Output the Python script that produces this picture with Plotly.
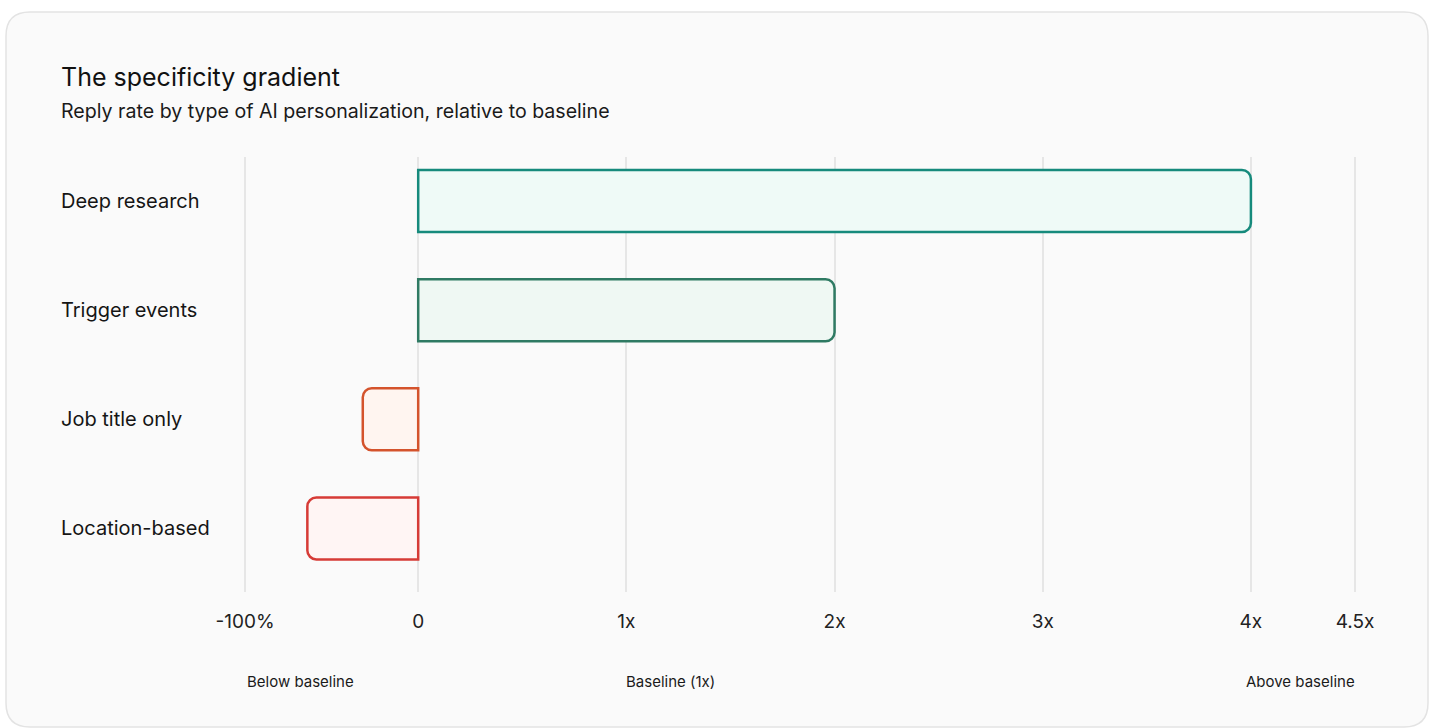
import plotly.graph_objects as go

# ---------------- data ----------------
categories = ["Deep research", "Trigger events", "Job title only", "Location-based"]
# positive values: multiples of baseline; negative values: fraction below baseline
values = [4.0, 2.0, -0.32, -0.64]
tick_values = [-1.0, 0, 1, 2, 3, 4, 4.5]
tick_labels = ["-100%", "0", "1x", "2x", "3x", "4x", "4.5x"]
line_colors = ["#168a7c", "#2f7a63", "#d4532c", "#d63b36"]
fill_colors = ["#effaf7", "#eff8f3", "#fff5f0", "#fff5f4"]
bottom_labels = ["Below baseline", "Baseline (1x)", "Above baseline"]

# negative side of the axis is compressed: -100% sits at this many "x" units
NEG_SCALE = 0.832


def to_axis(v):
    return v if v >= 0 else v * NEG_SCALE


x_plot = [to_axis(v) for v in values]
tick_pos = [to_axis(v) for v in tick_values]

# ---------------- layout geometry (pixels) ----------------
W, H = 1433, 728
GRID_L, GRID_R = 245, 1355          # pixel position of first / last gridline
PAD = 4                              # pixels of extra range on each side
UNIT = (GRID_R - GRID_L) / (tick_pos[-1] - tick_pos[0])
ML, MR, MT, MB = GRID_L - PAD, W - GRID_R - PAD, 157, 136
PW, PH = W - ML - MR, H - MT - MB
x_range = [tick_pos[0] - PAD / UNIT, tick_pos[-1] + PAD / UNIT]


def px_x(px):
    return (px - ML) / PW


def px_y(py):
    return (H - MB - py) / PH


FONT = "Inter"

fig = go.Figure()
fig.add_trace(go.Bar(
    y=categories,
    x=x_plot,
    orientation="h",
    width=0.568,
    marker=dict(color=fill_colors, line=dict(color=line_colors, width=2.5)),
    hoverinfo="skip",
))

# card background
x0, x1 = px_x(6), px_x(1428)
y0, y1 = px_y(12), px_y(727)
r = 24
rx, ry = r / PW, r / PH
path = (
    f"M {x0 + rx},{y0} L {x1 - rx},{y0} Q {x1},{y0} {x1},{y0 - ry} "
    f"L {x1},{y1 + ry} Q {x1},{y1} {x1 - rx},{y1} "
    f"L {x0 + rx},{y1} Q {x0},{y1} {x0},{y1 + ry} "
    f"L {x0},{y0 - ry} Q {x0},{y0} {x0 + rx},{y0} Z"
)
fig.add_shape(type="path", path=path, xref="paper", yref="paper",
              fillcolor="#fafafa", line=dict(color="#e3e3e3", width=1.5), layer="below")

annotations = []
# category labels, left aligned
for c in categories:
    annotations.append(dict(text=c, xref="paper", yref="y", x=px_x(59), y=c,
                            xanchor="left", yanchor="middle", showarrow=False,
                            font=dict(family=FONT, size=20, color="#151515")))
# title & subtitle
annotations.append(dict(text="The specificity gradient", xref="paper", yref="paper",
                        x=px_x(59), y=px_y(77), xanchor="left", yanchor="middle",
                        showarrow=False, font=dict(family=FONT, size=25, color="#111111")))
annotations.append(dict(text="Reply rate by type of AI personalization, relative to baseline",
                        xref="paper", yref="paper", x=px_x(59), y=px_y(111),
                        xanchor="left", yanchor="middle", showarrow=False,
                        font=dict(family=FONT, size=19.6, color="#1a1a1a")))
# bottom labels
for lab, cx in zip(bottom_labels, [300, 670, 1300]):
    annotations.append(dict(text=lab, xref="paper", yref="paper", x=px_x(cx), y=px_y(681),
                            xanchor="center", yanchor="middle", showarrow=False,
                            font=dict(family=FONT, size=15, color="#1a1a1a")))

fig.update_layout(
    width=W, height=H,
    margin=dict(l=ML, r=MR, t=MT, b=MB),
    paper_bgcolor="#ffffff",
    plot_bgcolor="rgba(0,0,0,0)",
    showlegend=False,
    barcornerradius=9,
    annotations=annotations,
    xaxis=dict(
        range=x_range,
        tickvals=tick_pos, ticktext=tick_labels,
        showgrid=True, gridcolor="#e6e6e6", gridwidth=1.5,
        zeroline=False, showline=False,
        ticks="outside", ticklen=12, tickcolor="rgba(0,0,0,0)",
        tickfont=dict(family=FONT, size=19, color="#222222"),
        fixedrange=True,
    ),
    yaxis=dict(
        range=[3.583, -0.404],
        showticklabels=False, showgrid=False, zeroline=False, showline=False,
        fixedrange=True,
    ),
)

fig.write_html("out.html", config={"displayModeBar": False})
